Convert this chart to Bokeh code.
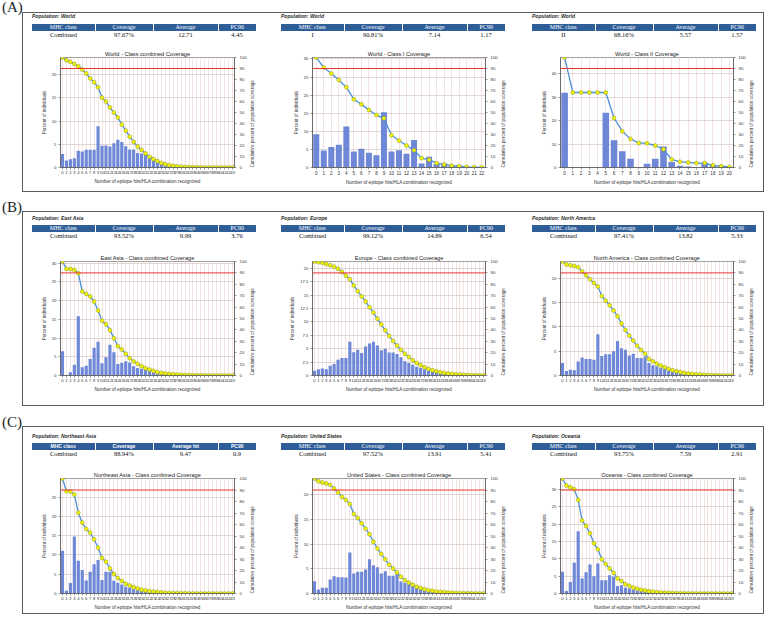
import math
from bokeh.plotting import figure
from bokeh.models import (Range1d, LinearAxis, Span, FixedTicker, SingleIntervalTicker,
                          Div, Spacer, Row, Column)
from bokeh.embed import file_html
from bokeh.resources import INLINE

# ---------------- data ----------------
# percent of individuals per number of epitope hits (bars) and cumulative coverage (line)
world_comb_pct = [2.9, 1.5, 1.8, 2.0, 3.6, 3.45, 3.8, 3.8, 3.8, 8.9, 4.7, 4.75, 4.5, 5.2, 6.0, 5.5,
                  4.6, 3.9, 3.9, 3.1, 3.0, 2.7, 2.3, 2.0, 1.65, 1.2, 1.0, 0.7, 0.5, 0.35, 0.25, 0.2,
                  0.15, 0.1, 0.08, 0.06, 0.05, 0.04, 0.03, 0.02, 0.02, 0.01, 0.01, 0.01]
world_comb_cum = [100, 97.6, 96, 94, 92, 89, 85.5, 81, 77.5, 73, 63.5, 60, 54.5, 50, 45.5, 39,
                  33.5, 28, 23.3, 19, 16, 12.7, 9.7, 7.6, 5.8, 4.2, 3.0, 2.1, 1.5, 1.0, 0.7, 0.5,
                  0.35, 0.25, 0.2, 0.15, 0.1, 0.08, 0.06, 0.05, 0.04, 0.03, 0.02, 0.01]

world_c1_pct = [9.19, 4.7, 5.7, 6.3, 11.3, 4.4, 5.2, 4.1, 3.4, 15.3, 4.4, 4.8, 3.8, 7.6, 1.1, 3.0,
                1.0, 1.1, 0.5, 0.6, 0.2, 0.1, 0.05]
world_c1_cum = [100, 90.81, 85.5, 79.5, 73, 62, 57.4, 52.3, 47.7, 44.7, 29.3, 24.5, 20, 15.7, 8.5,
                7, 3.9, 2.8, 1.6, 1.1, 0.5, 0.3, 0.1]

world_c2_pct = [31.84, 0, 0, 0, 0, 23.3, 11.6, 6.9, 3.7, 0, 1.6, 3.7, 9.0, 2.3, 0.7, 0.4, 0, 2.0,
                1.0, 0.6, 0.3]
world_c2_cum = [100, 68.16, 68.16, 68.16, 68.16, 68.16, 45, 33, 26, 22.3, 22, 20, 16.5, 7.3, 5.2,
                4.6, 4.0, 4.0, 2.0, 1.2, 0.5]

east_asia_pct = [6.48, 0.1, 0.9, 2.9, 15.8, 2.2, 2.6, 4.4, 7.4, 9.0, 3.3, 4.9, 8.2, 6.2, 3.1, 3.4,
                 3.8, 3.5, 2.5, 2.0, 1.8, 1.6, 1.2, 0.8, 0.6, 0.45, 0.35, 0.25, 0.2, 0.15, 0.1,
                 0.08, 0.06, 0.05, 0.04, 0.03, 0.02, 0.02, 0.01, 0.01, 0.01, 0.01, 0.01, 0.01]
east_asia_cum = [100, 93.52, 93.4, 92.6, 89.7, 73.7, 71.6, 69.3, 64.9, 57, 48, 45, 39.8, 32.7,
                 25.7, 22.8, 19, 15.2, 12.3, 10.2, 8.2, 6.4, 5.2, 4.1, 2.9, 2.3, 1.8, 1.3, 1.0,
                 0.8, 0.6, 0.5, 0.4, 0.3, 0.2, 0.2, 0.1, 0.1, 0.08, 0.06, 0.05, 0.04, 0.03, 0.02]

europe_pct = [0.9, 1.15, 1.3, 1.15, 1.8, 2.15, 2.95, 3.25, 3.25, 6.3, 4.35, 4.8, 4.2, 5.4, 6.0,
              6.3, 5.6, 4.7, 5.0, 4.3, 4.3, 4.0, 3.4, 2.65, 2.35, 2.0, 1.65, 1.4, 1.15, 0.9, 0.75,
              0.55, 0.45, 0.3, 0.25, 0.2, 0.15, 0.1, 0.08, 0.05, 0.04, 0.03, 0.02, 0.01]
europe_cum = [100, 99.4, 98.8, 97.7, 96.8, 95.4, 93.6, 90.8, 87.6, 84.4, 78.9, 74, 69.4, 65, 59.8,
              55.2, 49.7, 44.8, 39.6, 34.7, 30.3, 26.3, 22.5, 19.1, 16.2, 13.3, 11, 9.0, 7.2, 5.8,
              4.6, 3.8, 2.9, 2.3, 1.7, 1.4, 1.0, 0.8, 0.6, 0.4, 0.3, 0.2, 0.15, 0.1]

n_america_pct = [2.59, 0.95, 1.2, 1.1, 2.9, 3.7, 3.4, 3.4, 3.25, 8.5, 4.0, 4.4, 4.4, 5.0, 7.1, 5.6,
                 5.3, 4.1, 4.5, 3.6, 3.6, 3.9, 2.6, 2.1, 1.9, 1.55, 1.35, 1.0, 0.8, 0.6, 0.45, 0.35,
                 0.25, 0.2, 0.15, 0.1, 0.08, 0.05, 0.04, 0.03, 0.02, 0.02, 0.01, 0.01]
n_america_cum = [100, 97.41, 96.8, 96, 95, 91.3, 87.9, 84.4, 81.2, 78, 69.7, 65.6, 61.6, 57, 52,
                 45.7, 39.9, 35, 30.6, 26, 22.3, 19.1, 14.5, 12.4, 10.4, 8.7, 7.2, 5.8, 4.6, 3.8,
                 2.9, 2.3, 1.7, 1.3, 1.0, 0.8, 0.6, 0.4, 0.3, 0.2, 0.15, 0.1, 0.07, 0.05]

ne_asia_pct = [11.06, 0.7, 2.7, 14.8, 8.5, 6.1, 3.4, 5.65, 7.6, 8.7, 3.5, 5.65, 5.65, 3.3, 2.8,
               2.35, 1.75, 1.5, 1.1, 0.85, 0.6, 0.45, 0.3, 0.25, 0.2, 0.15, 0.1, 0.08, 0.05, 0.04,
               0.03, 0.02, 0.02, 0.01, 0.01, 0.01, 0, 0, 0, 0, 0, 0, 0, 0]
ne_asia_cum = [100, 88.94, 88.7, 86, 70.3, 61.6, 56.1, 52.9, 47.1, 39.8, 30.8, 27.6, 21.8, 16.9,
               13.4, 10.8, 8.4, 7, 5.5, 4.4, 3.2, 2.6, 2.0, 1.6, 1.2, 0.9, 0.7, 0.5, 0.4, 0.3, 0.2,
               0.15, 0.1, 0.08, 0.06, 0.05, 0.04, 0.03, 0.02, 0.02, 0.01, 0.01, 0.01, 0.01]

us_pct = [2.48, 0.8, 1.15, 1.15, 2.85, 3.5, 3.3, 3.3, 3.25, 8.3, 4.05, 4.4, 4.4, 4.85, 6.95, 5.7,
          5.3, 4.05, 4.5, 3.6, 3.6, 4.05, 2.45, 2.15, 1.9, 1.55, 1.35, 1.1, 0.9, 0.7, 0.5, 0.35,
          0.25, 0.2, 0.15, 0.1, 0.08, 0.05, 0.04, 0.03, 0.02, 0.02, 0.01, 0.01]
us_cum = [100, 97.52, 96.5, 95.6, 94.5, 91.3, 87.8, 84, 81.4, 77.9, 69.2, 65.7, 61, 56.4, 51.5, 45,
          39.2, 34.3, 29.7, 25, 21.8, 18.3, 14.5, 11.6, 9.3, 7.6, 5.8, 4.7, 3.8, 2.9, 2.3, 1.7,
          1.4, 1.1, 0.8, 0.6, 0.5, 0.35, 0.25, 0.2, 0.15, 0.1, 0.07, 0.05]

oceania_pct = [6.25, 0.7, 3.3, 8.85, 18.0, 4.3, 6.15, 8.4, 5.0, 8.65, 3.85, 3.85, 5.3, 4.8, 2.2,
               2.4, 1.7, 1.45, 1.15, 0.85, 0.65, 0.5, 0.35, 0.25, 0.2, 0.15, 0.1, 0.08, 0.05,
               0.04, 0.03, 0.02, 0.02, 0.01, 0.01, 0.01, 0, 0, 0, 0, 0, 0, 0, 0]
oceania_cum = [100, 93.9, 92.4, 90.7, 81.4, 63.4, 58.7, 52.3, 43.6, 38.4, 29.7, 25.6, 21.8, 18,
               13.1, 10.8, 8.1, 6.7, 5.2, 4.1, 3.2, 2.6, 2.0, 1.5, 1.1, 0.8, 0.6, 0.45, 0.35, 0.25,
               0.2, 0.15, 0.1, 0.08, 0.06, 0.05, 0.04, 0.03, 0.02, 0.02, 0.01, 0.01, 0.01, 0.01]

populations = ["World", "World", "World", "East Asia", "Europe", "North America",
               "Northeast Asia", "United States", "Oceania"]
mhc_classes = ["Combined", "I", "II", "Combined", "Combined", "Combined",
               "Combined", "Combined", "Combined"]
coverages = ["97.67%", "90.81%", "68.16%", "93.52%", "99.12%", "97.41%", "88.94%", "97.52%", "93.75%"]
averages = ["12.71", "7.14", "5.57", "9.99", "14.89", "13.82", "9.47", "13.91", "7.59"]
pc90s = ["4.45", "1.17", "1.57", "3.76", "6.54", "5.33", "0.9", "5.41", "2.91"]
chart_titles = ["World - Class combined Coverage", "World - Class I Coverage",
                "World - Class II Coverage", "East Asia - Class combined Coverage",
                "Europe - Class combined Coverage", "North America - Class combined Coverage",
                "Northeast Asia - Class combined Coverage", "United States - Class combined Coverage",
                "Oceania - Class combined Coverage"]
bar_series = [world_comb_pct, world_c1_pct, world_c2_pct, east_asia_pct, europe_pct,
              n_america_pct, ne_asia_pct, us_pct, oceania_pct]
cum_series = [world_comb_cum, world_c1_cum, world_c2_cum, east_asia_cum, europe_cum,
              n_america_cum, ne_asia_cum, us_cum, oceania_cum]
left_axis_max = [23.7, 30.4, 46.9, 30.4, 21.3, 23.5, 29.8, 23.3, 33.2]
left_axis_step = [5, 5, 10, 5, 2.5, 5, 5, 5, 5]
header_labels = ["MHC class", "Coverage", "Average", "PC90"]
header_labels_alt = ["MHC class", "Coverage", "Average hit", "PC90"]
group_labels = ["(A)", "(B)", "(C)"]

# ---------------- styling / geometry ----------------
SANS = "Liberation Sans"
SERIF = "Liberation Serif"
BAR_COLOR = "#6e87d6"
LINE_COLOR = "#4a90d9"
col_w = [250, 250, 242]
border_l = [38, 40, 38]
border_r = [38, 37, 31]
tab_left = [10, 9, 10]
col_widths = [63, 58, 65, 38]
groups = [
    dict(label_top=0, gap=12, box_h=180, div_h=30, fig_h=150, bt=15, bb=25, pop_top=1, tab_top=12),
    dict(label_top=8, gap=19, box_h=195, div_h=32, fig_h=163, bt=18, bb=31, pop_top=4, tab_top=14),
    dict(label_top=9, gap=20, box_h=188, div_h=35, fig_h=153, bt=17, bb=21, pop_top=7, tab_top=17),
]


def table_div(i, w, h, g, left):
    alt = populations[i] == "Northeast Asia"
    heads = header_labels_alt if alt else header_labels
    if alt:
        hfont = f"bold 5px/7px '{SANS}',sans-serif"
    else:
        hfont = f"6px/7px '{SERIF}',serif"
    hcells = ""
    for k, (cw, lab) in enumerate(zip(col_widths, heads)):
        bl = "" if k == 0 else "border-left:1px solid #fff;"
        hcells += (f'<td style="width:{cw}px;padding:0;height:7px;background:#2f5d98;color:#fff;'
                   f'font:{hfont};text-align:center;{bl}">{lab}</td>')
    vals = [mhc_classes[i], coverages[i], averages[i], pc90s[i]]
    dcells = ""
    for cw, v in zip(col_widths, vals):
        dcells += (f'<td style="width:{cw}px;padding:0;height:8px;color:#111;'
                   f"font:6.5px/8px '{SERIF}',serif;text-align:center;\">{v}</td>")
    html = (f'<div style="position:relative;width:{w}px;height:{h}px;">'
            f'<div style="position:absolute;left:{left}px;top:{g["pop_top"]}px;white-space:nowrap;'
            f"font:italic bold 5px/6px '{SANS}',sans-serif;color:#2a2a2a;\">Population: {populations[i]}</div>"
            f'<table style="position:absolute;left:{left}px;top:{g["tab_top"]}px;width:{sum(col_widths)}px;'
            f'border-collapse:collapse;table-layout:fixed;border-spacing:0;">'
            f'<tr>{hcells}</tr><tr>{dcells}</tr></table></div>')
    return Div(text=html, width=w, height=h, margin=0)


def chart(i, w, g, bl, br):
    bars = bar_series[i]
    cum = cum_series[i]
    n = len(bars)
    xs = list(range(n))
    p = figure(width=w, height=g["fig_h"], x_range=Range1d(-0.5, n - 0.5),
               y_range=Range1d(0, left_axis_max[i]), output_backend="svg",
               toolbar_location=None, min_border_left=bl, min_border_right=br,
               min_border_top=g["bt"], min_border_bottom=g["bb"],
               border_fill_alpha=0, background_fill_color="white",
               outline_line_color="#777", outline_line_width=0.7)
    p.title.text = chart_titles[i]
    p.title.align = "center"
    p.title.text_font = SANS
    p.title.text_font_size = "5.6px"
    p.title.text_font_style = "normal"
    p.title.text_color = "#222"
    p.title.standoff = 2
    p.extra_y_ranges = {"cum": Range1d(0, 100)}

    p.xgrid.ticker = FixedTicker(ticks=xs)
    p.xgrid.grid_line_color = "#e6c6c6"
    p.xgrid.grid_line_width = 0.5
    p.ygrid.grid_line_color = "#ccbcbc"
    p.ygrid.grid_line_width = 0.6

    p.vbar(x=xs, top=bars, width=0.8, fill_color=BAR_COLOR, line_color=None)
    p.add_layout(Span(location=90, dimension="width", y_range_name="cum",
                      line_color="#e8352e", line_width=1))
    p.line(xs, cum, y_range_name="cum", line_color=LINE_COLOR, line_width=1.3)
    p.scatter(xs, cum, y_range_name="cum", size=4, fill_color="#f0f000",
              line_color="#8e9b3a", line_width=0.5)

    ya = p.yaxis[0]
    ya.ticker = SingleIntervalTicker(interval=left_axis_step[i], num_minor_ticks=0)
    ya.axis_label = "Percent of individuals"
    ya.axis_label_standoff = 2
    ya.major_label_standoff = 2

    ra = LinearAxis(y_range_name="cum", axis_label="Cumulative percent of population coverage",
                    ticker=SingleIntervalTicker(interval=10, num_minor_ticks=0))
    ra.axis_label_standoff = 3
    ra.major_label_standoff = 3
    ra.axis_label_orientation = math.pi / 2
    ra.axis_label_align = "start"
    p.add_layout(ra, "right")

    xa = p.xaxis[0]
    xa.ticker = FixedTicker(ticks=xs)
    xa.axis_label = "Number of epitope hits/HLA combination recognized"
    xa.major_label_standoff = 1
    xa.axis_label_standoff = 2

    for ax in (ya, ra, xa):
        ax.axis_line_color = "#555"
        ax.axis_line_width = 0.7
        ax.major_tick_line_color = "#555"
        ax.major_tick_line_width = 0.6
        ax.major_tick_in = 0
        ax.major_tick_out = 2
        ax.minor_tick_line_color = None
        ax.major_label_text_font = SANS
        ax.major_label_text_font_size = "4.3px"
        ax.major_label_text_color = "#333"
        ax.axis_label_text_font = SANS
        ax.axis_label_text_font_size = "4.6px"
        ax.axis_label_text_font_style = "normal"
        ax.axis_label_text_color = "#333"
    xa.major_label_text_font_size = "4.2px" if n > 30 else "4.6px"
    return p


group_rows = []
for gi, g in enumerate(groups):
    cols = []
    for ci in range(3):
        i = gi * 3 + ci
        d = table_div(i, col_w[ci], g["div_h"], g, tab_left[ci])
        p = chart(i, col_w[ci], g, border_l[ci], border_r[ci])
        cols.append(Column(children=[d, p], spacing=0, width=col_w[ci],
                           height=g["div_h"] + g["fig_h"]))
    box = Row(children=cols, spacing=0, width=sum(col_w), height=g["box_h"],
              styles={"outline": "1px solid #5a5a5a", "outline-offset": "-1px"})
    right = Column(children=[Spacer(width=sum(col_w), height=g["gap"]), box], spacing=0)
    lab = Div(text=(f'<div style="position:relative;width:22px;height:{g["gap"] + g["box_h"]}px;">'
                    f'<div style="position:absolute;left:2px;top:{g["label_top"]}px;'
                    f"font:15px/15px '{SERIF}',serif;color:#222;white-space:nowrap;\">{group_labels[gi]}</div></div>"),
              width=22, height=g["gap"] + g["box_h"], margin=0)
    group_rows.append(Row(children=[lab, right], spacing=0))

page = Column(children=group_rows, spacing=0)

open("out.html", "w").write(file_html(page, INLINE))
